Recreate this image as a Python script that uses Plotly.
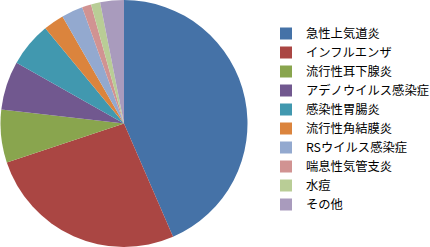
import plotly.graph_objects as go

labels = ["急性上気道炎", "インフルエンザ", "流行性耳下腺炎", "アデノウイルス感染症", "感染性胃腸炎",
          "流行性角結膜炎", "RSウイルス感染症", "喘息性気管支炎", "水痘", "その他"]
values = [43.5, 26.4, 6.9, 6.4, 5.8, 2.7, 2.8, 1.2, 1.2, 3.1]
colors = ["#4572A7", "#AA4643", "#89A54E", "#71588F", "#4198AF",
          "#DB843D", "#93A9CF", "#D19392", "#B9CD96", "#A99BBD"]

fig = go.Figure(go.Pie(
    labels=labels, values=values, sort=False, direction="clockwise", rotation=0,
    marker=dict(colors=colors, line=dict(width=0)), textinfo="none", textposition="none",
    domain=dict(x=[0, 248/430], y=[0, 1]),
))
fig.update_layout(
    width=430, height=247, margin=dict(l=0, r=0, t=0, b=0, autoexpand=False),
    paper_bgcolor="white", plot_bgcolor="white",
    font=dict(family="Noto Sans CJK JP", size=12, color="black"),
    legend=dict(x=266/430, y=1-19/247, xanchor="left", yanchor="top",
                font=dict(size=12.3), itemwidth=30, tracegroupgap=0),
)
fig.write_html("out.html")
